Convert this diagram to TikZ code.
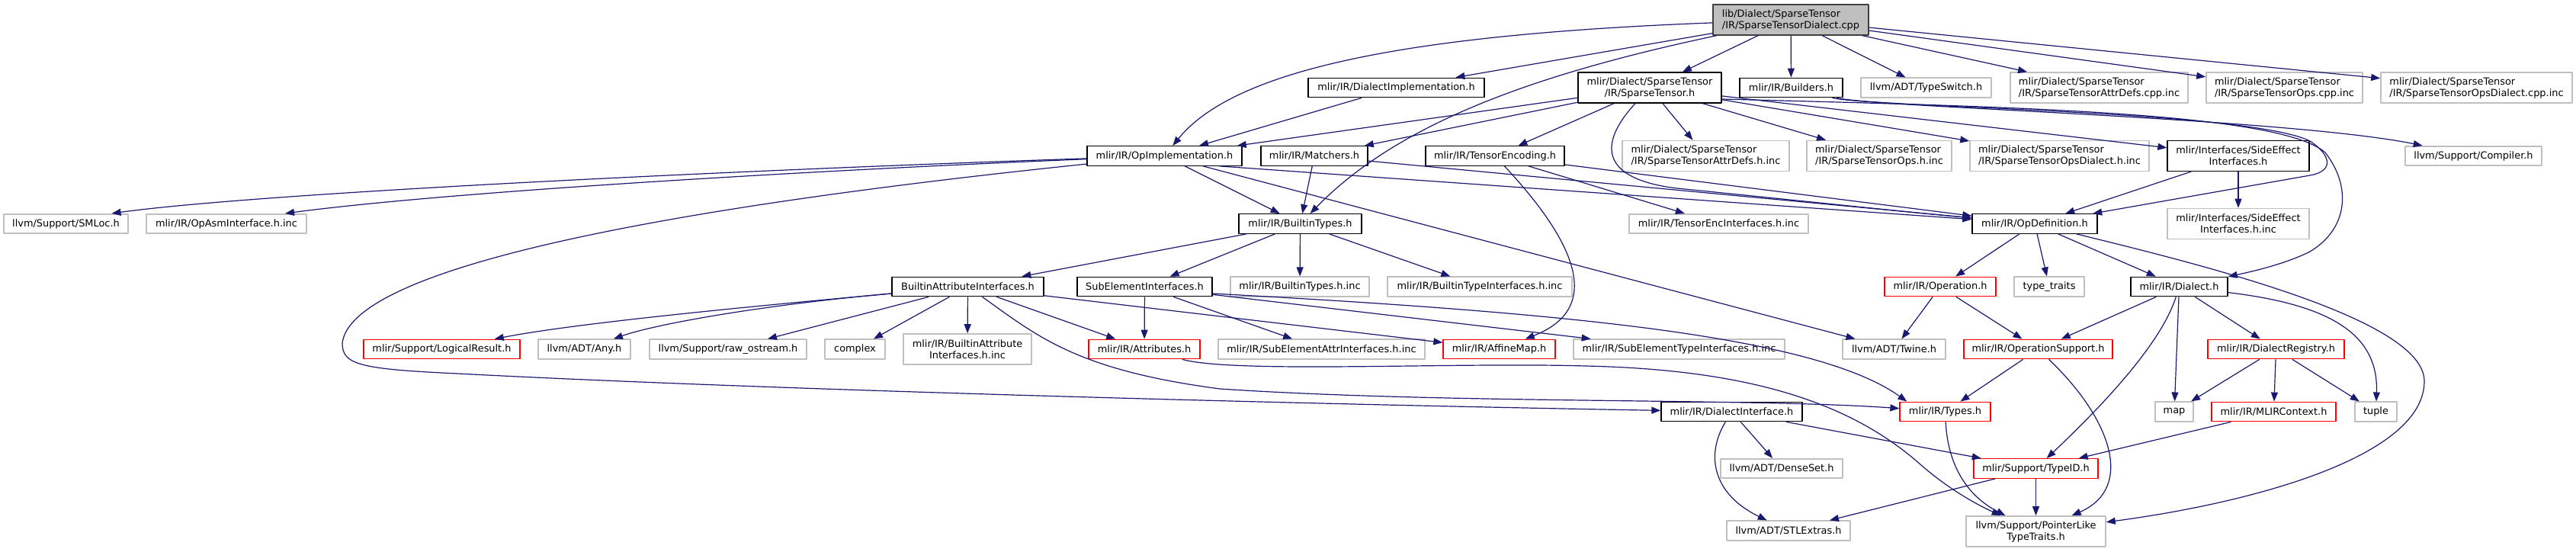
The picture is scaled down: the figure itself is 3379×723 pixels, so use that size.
\documentclass[tikz,border=0pt]{standalone}
\usepackage{fontspec}
\setmainfont{DejaVu Sans}
\usetikzlibrary{arrows.meta}
\definecolor{edgeblue}{HTML}{191970}
\definecolor{extgray}{HTML}{BFBFBF}
\definecolor{rootgray}{HTML}{BFBFBF}
\definecolor{rootline}{HTML}{404040}
\begin{document}
\begin{tikzpicture}[x=1pt, y=-1pt, line join=round,
		file/.style={rectangle, inner xsep=0pt, inner ysep=0pt, minimum height=25.5,
			font=\fontsize{12.9}{15}\selectfont, line width=1.3pt, fill=white},
		doc/.style={file, draw=black},
		ext/.style={file, draw=extgray, line width=1.6pt},
		cut/.style={file, draw=red},
		twoline/.style={minimum height=40},
		dep/.style={draw=edgeblue, line width=1.2pt, -{Triangle[length=12pt, width=9pt]}}]
	% Picture window
	\useasboundingbox (0,0) rectangle (3379,723);
	
	% Level 0: the source file
	\node[doc, fill=rootgray, draw=rootline, twoline, align=left, minimum width=204] (root) at (2349,26) {lib/Dialect/SparseTensor\\/IR/SparseTensorDialect.cpp};
	
	% Level 1
	\node[doc, minimum width=231] (dimpl) at (1831.5,115) {mlir/IR/DialectImplementation.h};
	\node[doc, twoline, align=center, minimum width=188] (sparse) at (2164,115) {mlir/Dialect/SparseTensor\\/IR/SparseTensor.h};
	\node[doc, minimum width=135] (builders) at (2349.5,115) {mlir/IR/Builders.h};
	\node[ext, minimum width=171] (typeswitch) at (2526.5,115) {llvm/ADT/TypeSwitch.h};
	\node[ext, twoline, align=left, minimum width=233] (attrcpp) at (2753.5,115) {mlir/Dialect/SparseTensor\\/IR/SparseTensorAttrDefs.cpp.inc};
	\node[ext, twoline, align=left, minimum width=205] (opscpp) at (2996.5,115) {mlir/Dialect/SparseTensor\\/IR/SparseTensorOps.cpp.inc};
	\node[ext, twoline, align=left, minimum width=251] (dialcpp) at (3248.5,115) {mlir/Dialect/SparseTensor\\/IR/SparseTensorOpsDialect.cpp.inc};
	
	% Level 2
	\node[doc, minimum width=203] (opimpl) at (1527.5,204.5) {mlir/IR/OpImplementation.h};
	\node[doc, minimum width=140] (matchers) at (1724,204.5) {mlir/IR/Matchers.h};
	\node[doc, minimum width=182] (tenc) at (1961,204.5) {mlir/IR/TensorEncoding.h};
	\node[ext, twoline, align=left, minimum width=219] (attrhinc) at (2237.5,204.5) {mlir/Dialect/SparseTensor\\/IR/SparseTensorAttrDefs.h.inc};
	\node[ext, twoline, align=left, minimum width=190] (opshinc) at (2465,204.5) {mlir/Dialect/SparseTensor\\/IR/SparseTensorOps.h.inc};
	\node[ext, twoline, align=left, minimum width=235] (dialhinc) at (2701.5,204.5) {mlir/Dialect/SparseTensor\\/IR/SparseTensorOpsDialect.h.inc};
	\node[doc, twoline, align=center, minimum width=186] (sideeff) at (2936,204.5) {mlir/Interfaces/SideEffect\\Interfaces.h};
	\node[ext, minimum width=179] (compiler) at (3244.5,204.5) {llvm/Support/Compiler.h};
	
	% Level 3
	\node[ext, minimum width=163] (smloc) at (86.5,293.5) {llvm/Support/SMLoc.h};
	\node[ext, minimum width=210] (opasm) at (297,293.5) {mlir/IR/OpAsmInterface.h.inc};
	\node[doc, minimum width=161] (btypes) at (1705.5,293.5) {mlir/IR/BuiltinTypes.h};
	\node[ext, minimum width=235] (tencinc) at (2254.5,293.5) {mlir/IR/TensorEncInterfaces.h.inc};
	\node[doc, minimum width=164] (opdef) at (2669,293.5) {mlir/IR/OpDefinition.h};
	\node[ext, twoline, align=center, minimum width=186] (sideinc) at (2936,293.5) {mlir/Interfaces/SideEffect\\Interfaces.h.inc};
	
	% Level 4
	\node[doc, minimum width=199] (bai) at (1269.5,376) {BuiltinAttributeInterfaces.h};
	\node[doc, minimum width=177] (subel) at (1501.5,376) {SubElementInterfaces.h};
	\node[ext, minimum width=182] (btinc) at (1705,376) {mlir/IR/BuiltinTypes.h.inc};
	\node[ext, minimum width=242] (btiinc) at (1941,376) {mlir/IR/BuiltinTypeInterfaces.h.inc};
	\node[cut, minimum width=146] (operation) at (2545,376) {mlir/IR/Operation.h};
	\node[ext, minimum width=92] (typetraits) at (2688,376) {type\_traits};
	\node[doc, minimum width=127] (dialect) at (2858.5,376) {mlir/IR/Dialect.h};
	
	% Level 5
	\node[cut, minimum width=205] (logres) at (579.5,458) {mlir/Support/LogicalResult.h};
	\node[ext, minimum width=121] (any) at (766.5,458) {llvm/ADT/Any.h};
	\node[ext, minimum width=206] (rawos) at (955,458) {llvm/Support/raw\_ostream.h};
	\node[ext, minimum width=79] (complex) at (1121.5,458) {complex};
	\node[ext, twoline, align=center, minimum width=168] (baiinc) at (1269,458) {mlir/IR/BuiltinAttribute\\Interfaces.h.inc};
	\node[cut, minimum width=146] (attrs) at (1501,458) {mlir/IR/Attributes.h};
	\node[ext, minimum width=271] (seattr) at (1733.5,458) {mlir/IR/SubElementAttrInterfaces.h.inc};
	\node[cut, minimum width=147] (affine) at (1966.5,458) {mlir/IR/AffineMap.h};
	\node[ext, minimum width=277] (setype) at (2202.5,458) {mlir/IR/SubElementTypeInterfaces.h.inc};
	\node[ext, minimum width=135] (twine) at (2484.5,458) {llvm/ADT/Twine.h};
	\node[cut, minimum width=195] (opsupp) at (2673.5,458) {mlir/IR/OperationSupport.h};
	\node[cut, minimum width=179] (dreg) at (2985.5,458) {mlir/IR/DialectRegistry.h};
	
	% Level 6
	\node[doc, minimum width=185] (diaint) at (2271.5,540) {mlir/IR/DialectInterface.h};
	\node[cut, minimum width=119] (types) at (2551.5,540) {mlir/IR/Types.h};
	\node[ext, minimum width=50] (map) at (2852,540) {map};
	\node[cut, minimum width=163] (mlirctx) at (2982.5,540) {mlir/IR/MLIRContext.h};
	\node[ext, minimum width=55] (tuple) at (3116.5,540) {tuple};
	
	% Level 7 and 8
	\node[ext, minimum width=160] (denseset) at (2337,614.5) {llvm/ADT/DenseSet.h};
	\node[cut, minimum width=163] (typeid) at (2670.5,614.5) {mlir/Support/TypeID.h};
	\node[ext, minimum width=162] (stlextras) at (2346,696) {llvm/ADT/STLExtras.h};
	\node[ext, twoline, align=center, minimum width=183] (ptrlike) at (2670.5,697) {llvm/Support/PointerLike\\TypeTraits.h};
	
	% Includes of the source file
	\draw[dep] (root) .. controls (1850,45) and (1620,90) .. (opimpl);
	\draw[dep] (root) -- (dimpl);
	\draw[dep] (root) .. controls (2000,100) and (1830,166) .. (btypes);
	\draw[dep] (root) -- (sparse);
	\draw[dep] (root) -- (builders);
	\draw[dep] (root) -- (typeswitch);
	\draw[dep] (root) -- (attrcpp);
	\draw[dep] (root) -- (opscpp);
	\draw[dep] (root) -- (dialcpp);
	
	% SparseTensor.h
	\draw[dep] (dimpl) -- (opimpl);
	\draw[dep] (sparse) -- (opimpl);
	\draw[dep] (sparse) -- (matchers);
	\draw[dep] (sparse) -- (tenc);
	\draw[dep] (sparse) -- (attrhinc);
	\draw[dep] (sparse) -- (opshinc);
	\draw[dep] (sparse) -- (dialhinc);
	\draw[dep] (sparse) -- (sideeff);
	\draw[dep] (sparse) .. controls (2095,190) and (2100,235) .. (2200,247)
		.. controls (2350,262) and (2500,278) .. (opdef);
	\draw[dep] ([yshift=-15pt]sparse.east) .. controls (2650,140) and (2990,148) .. (3050,200)
		.. controls (3085,245) and (3080,300) .. (3030,330)
		.. controls (3000,345) and (2960,355) .. (dialect);
	
	% Builders.h
	\draw[dep] (builders) .. controls (2450,140) and (3000,155) .. (compiler);
	\draw[dep] (builders) .. controls (2470,142) and (2950,145) .. (3030,185)
		.. controls (3060,205) and (3060,225) .. (3030,230) -- (opdef);
	
	% OpImplementation.h and Matchers.h
	\draw[dep] (matchers) -- (btypes);
	\draw[dep] (matchers) -- (opdef);
	\draw[dep] (opimpl) -- (btypes);
	\draw[dep] ([xshift=-30pt]opimpl.south east) -- (opdef);
	\draw[dep] (opimpl) -- (twine);
	\draw[dep] (opimpl) .. controls (1000,222) and (350,252) .. ([xshift=60pt]smloc.north);
	\draw[dep] (opimpl) .. controls (1100,222) and (600,250) .. ([xshift=77pt]opasm.north);
	\draw[dep] (opimpl) .. controls (800,280) and (460,360) .. (449,450)
		.. controls (449,478) and (470,484) .. (600,490)
		.. controls (1000,511) and (1700,530) .. (diaint);
	
	% BuiltinTypes.h, TensorEncoding.h, SideEffectInterfaces.h
	\draw[dep] (btypes) -- (bai);
	\draw[dep] (btypes) -- (subel);
	\draw[dep] (btypes) -- (btinc);
	\draw[dep] (btypes) -- (btiinc);
	\draw[dep] (tenc) -- (tencinc);
	\draw[dep] (tenc) -- (opdef);
	\draw[dep] (tenc) .. controls (2050,300) and (2115,400) .. (affine);
	\draw[dep] (sideeff) -- (opdef);
	\draw[dep] (sideeff) -- (sideinc);
	
	% OpDefinition.h
	\draw[dep] (opdef) -- (operation);
	\draw[dep] (opdef) -- (typetraits);
	\draw[dep] (opdef) -- (dialect);
	\draw[dep] (opdef) .. controls (2900,350) and (3180,420) .. (3180,500)
		.. controls (3180,600) and (2950,660) .. (ptrlike);
	
	% BuiltinAttributeInterfaces.h
	\draw[dep] (bai) .. controls (950,405) and (750,425) .. (logres);
	\draw[dep] (bai) .. controls (1000,400) and (860,425) .. (any);
	\draw[dep] (bai) -- (rawos);
	\draw[dep] (bai) -- (complex);
	\draw[dep] (bai) -- (baiinc);
	\draw[dep] (bai) -- (attrs);
	\draw[dep] (bai) -- (affine);
	\draw[dep] (bai) .. controls (1360,440) and (1410,485) .. (1600,510)
		.. controls (1900,530) and (2300,522) .. (types);
	
	% SubElementInterfaces.h and Attributes.h
	\draw[dep] (subel) -- (attrs);
	\draw[dep] (subel) -- (seattr);
	\draw[dep] (subel) -- (setype);
	\draw[dep] ([yshift=-9pt]subel.east) .. controls (2050,410) and (2380,440) .. ([xshift=10pt]types.north west);
	\draw[dep] (attrs) .. controls (1620,490) and (1900,475) .. (2080,480)
		.. controls (2300,485) and (2430,530) .. (2520,610)
		.. controls (2560,645) and (2600,665) .. (ptrlike);
	
	% Operation.h, Dialect.h and below
	\draw[dep] (operation) -- (twine);
	\draw[dep] (operation) -- (opsupp);
	\draw[dep] (dialect) -- (opsupp);
	\draw[dep] (dialect) .. controls (2835,450) and (2760,530) .. (typeid);
	\draw[dep] (dialect) -- (map);
	\draw[dep] (dialect) -- (dreg);
	\draw[dep] (dialect) .. controls (3060,400) and (3120,440) .. (tuple);
	\draw[dep] (dreg) -- (map);
	\draw[dep] (dreg) -- (mlirctx);
	\draw[dep] (dreg) -- (tuple);
	\draw[dep] (mlirctx) -- (typeid);
	\draw[dep] (opsupp) -- (types);
	\draw[dep] (opsupp) .. controls (2770,550) and (2800,640) .. (ptrlike);
	\draw[dep] (types) .. controls (2555,610) and (2580,650) .. (ptrlike);
	\draw[dep] (typeid) -- (ptrlike);
	\draw[dep] (typeid) -- (stlextras);
	\draw[dep] (diaint) -- (denseset);
	\draw[dep] (diaint) .. controls (2235,600) and (2250,650) .. (stlextras);
	\draw[dep] (diaint) -- (typeid);
\end{tikzpicture}
\end{document}
